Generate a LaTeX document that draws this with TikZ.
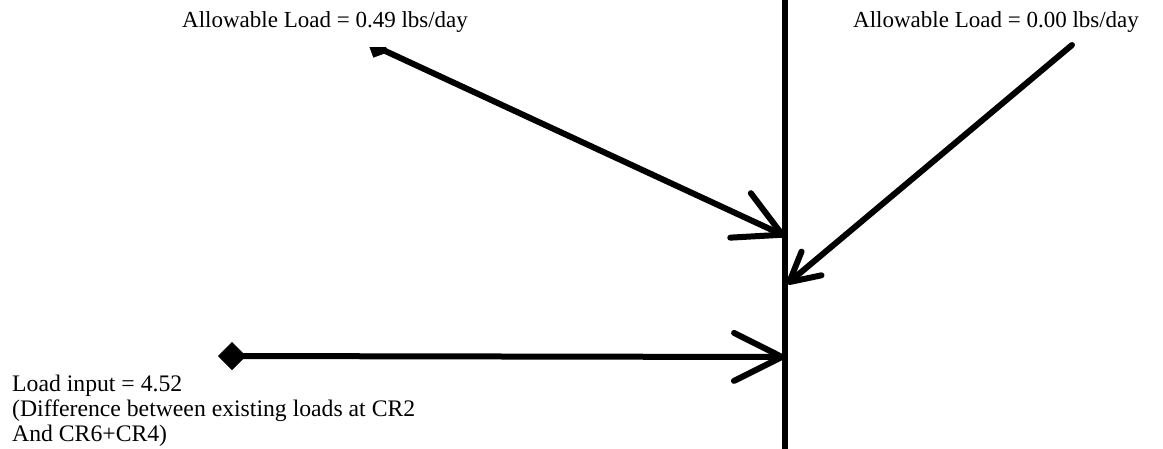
\documentclass[tikz,border=0pt]{standalone}
\usepackage{fontspec}
\setmainfont{Liberation Serif}
\usetikzlibrary{arrows.meta,backgrounds}
\definecolor{ink}{HTML}{000000}
\tikzset{
  >=stealth,
  % --- nodes
  lbl/.style  = {font=\fontsize{23}{25}\selectfont, text=ink, inner sep=0pt,
                 anchor=base west, align=left},
  note/.style = {lbl, font=\fontsize{23.7}{25}\selectfont},
  % --- edges
  bar/.style  = {line width=6pt, draw=ink},
  e/.style    = {bar, line cap=round, -{Straight Barb[length=46pt,width=49pt,round]}},
  esml/.style = {bar, line cap=round, -{Straight Barb[length=29pt,width=31pt,round]}},
  ein/.style  = {bar, line cap=round,
                 {Turned Square[length=28pt,width=28pt,line width=0.5pt]}-{Straight Barb[length=48pt,width=48pt,round]}},
  esrc/.style = {bar, line cap=round,
                 {Turned Square[length=22pt,width=22pt,line width=0.5pt]}-{Straight Barb[length=46pt,width=49pt,round]}},
}
\begin{document}
\begin{tikzpicture}[x=1pt,y=-1pt]
  \useasboundingbox (0,0) rectangle (1163,449);
  % labels
  \node[lbl, fill=white, text depth=19pt] (loadL) at (182,28) {Allowable Load = 0.49 lbs/day};
  \node[lbl] (loadR) at (853,28) {Allowable Load = 0.00 lbs/day};
  \node[note] (input) at (12,441) {Load input = 4.52\\(Difference between existing loads at CR2\\And CR6+CR4)};
  % stream
  \coordinate (top) at (785,0);
  \coordinate (bot) at (785,449);
  \coordinate (inL) at (785,236);
  \coordinate (inR) at (787,284);
  \coordinate (inB) at (785,357);
  \coordinate (srcL) at (368,43);
  \coordinate (srcR) at (1072,45);
  \coordinate (srcB) at (218,356);
  \draw[bar] (top) -- (bot);
  \begin{scope}[on background layer]
    \draw[esrc] (srcL) -- (inL);
    \draw[esml] (srcR) -- (inR);
    \draw[ein] (srcB) -- (inB);
  \end{scope}
\end{tikzpicture}
\end{document}
